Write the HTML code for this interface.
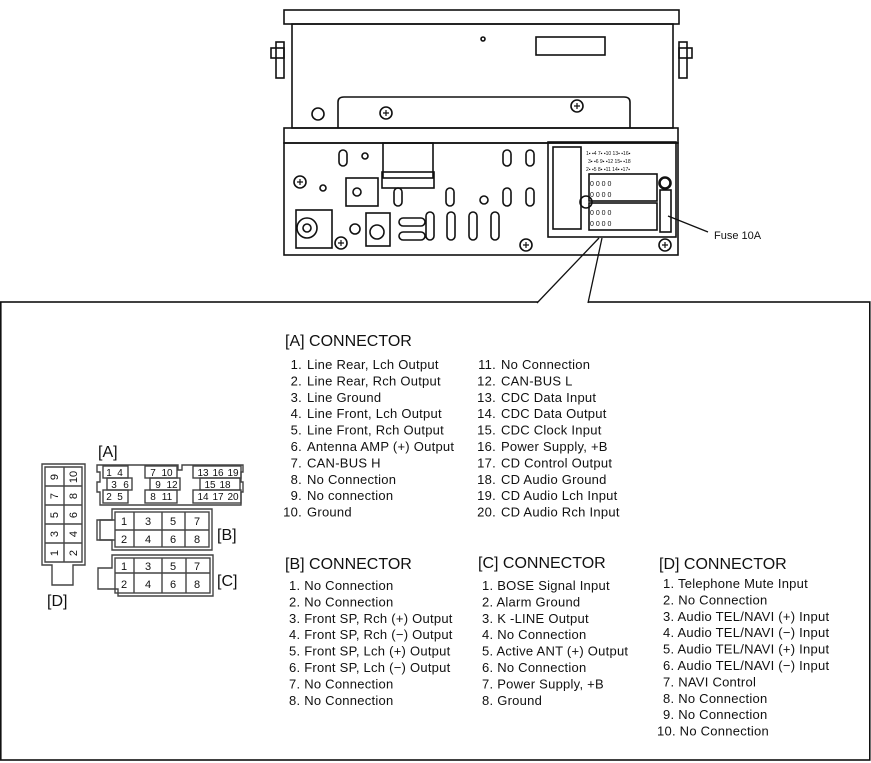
<!DOCTYPE html>
<html><head><meta charset="utf-8"><style>
html,body{margin:0;padding:0;background:#fff}
svg{display:block}
text{font-family:"Liberation Sans",sans-serif;fill:#111}
.it{font-size:13px;letter-spacing:0.25px}
.h{font-size:16px}
.n{font-size:11px}
</style></head><body>
<svg width="871" height="763" viewBox="0 0 871 763" xmlns="http://www.w3.org/2000/svg">
<g fill="none" stroke="#111" stroke-width="1.6">
<rect x="284" y="10" width="395" height="14"/>
<rect x="292" y="24" width="381" height="104"/>
<rect x="271" y="48" width="13" height="10"/><rect x="276" y="42" width="8" height="36"/>
<rect x="679" y="48" width="13" height="10"/><rect x="679" y="42" width="8" height="36"/>
<path d="M338 128 V102 Q338 97 344 97 H624 Q630 97 630 102 V128"/>
<rect x="536" y="37" width="69" height="18"/>
<circle cx="483" cy="39" r="2"/>
<circle cx="318" cy="114" r="6"/><circle cx="386" cy="113" r="6"/><circle cx="577" cy="106" r="6"/>
<path d="M383 113 h6 M386 110 v6 M574 106 h6 M577 103 v6" stroke-width="1.2"/>
<rect x="284" y="128" width="394" height="15"/>
<rect x="284" y="143" width="394" height="112"/>
<rect x="383" y="143" width="50" height="35"/>
<rect x="382" y="172" width="52" height="16"/>
<rect x="346" y="178" width="32" height="28"/>
<circle cx="357" cy="192" r="4"/>
<rect x="296" y="210" width="36" height="38"/><circle cx="307" cy="228" r="10"/><circle cx="307" cy="228" r="4"/>
<rect x="366" y="213" width="24" height="33"/><circle cx="377" cy="232" r="7"/>
<circle cx="300" cy="182" r="6"/><circle cx="341" cy="243" r="6"/><circle cx="355" cy="229" r="5"/><circle cx="526" cy="245" r="6"/><circle cx="665" cy="183" r="6"/><circle cx="665" cy="245" r="6"/>
<path d="M297 182 h6 M300 179 v6 M338 243 h6 M341 240 v6 M523 245 h6 M526 242 v6 M662 245 h6 M665 242 v6" stroke-width="1.2"/>
<rect x="399" y="218" width="26" height="8" rx="4"/><rect x="399" y="232" width="26" height="8" rx="4"/>
<rect x="339" y="150" width="8" height="16" rx="4"/><rect x="503" y="150" width="8" height="16" rx="4"/><rect x="526" y="150" width="8" height="16" rx="4"/>
<rect x="394" y="188" width="8" height="18" rx="4"/><rect x="446" y="188" width="8" height="18" rx="4"/><rect x="503" y="188" width="8" height="18" rx="4"/><rect x="526" y="188" width="8" height="18" rx="4"/>
<rect x="426" y="212" width="8" height="28" rx="4"/><rect x="447" y="212" width="8" height="28" rx="4"/><rect x="469" y="212" width="8" height="28" rx="4"/><rect x="491" y="212" width="8" height="28" rx="4"/>
<circle cx="484" cy="200" r="4"/><circle cx="365" cy="156" r="3"/><circle cx="323" cy="188" r="3"/>
<rect x="548" y="142" width="128" height="95"/>
<rect x="553" y="147" width="28" height="82"/>
<rect x="589" y="174" width="68" height="27"/><rect x="589" y="203" width="68" height="27"/>
<rect x="660" y="190" width="11" height="42"/>
<circle cx="586" cy="202" r="6"/><circle cx="665" cy="183" r="5"/>
<rect x="0.8" y="302" width="869" height="458"/>
</g>
<g fill="#fff" stroke="none"><rect x="538" y="300" width="50" height="4"/></g>
<g fill="none" stroke="#111" stroke-width="1.3">
<polyline points="537,303 599,238"/><polyline points="588,303 602,238"/>
<polyline points="708,232 668,216"/>
</g>
<g fill="#333">
<text x="590" y="186" style="font-size:7px">0 0 0 0</text><text x="590" y="197" style="font-size:7px">0 0 0 0</text>
<text x="590" y="215" style="font-size:7px">0 0 0 0</text><text x="590" y="226" style="font-size:7px">0 0 0 0</text>
<text x="586" y="155" style="font-size:5px">1▪ ▪4 7▪ ▪10 13▪ ▪16▪</text>
<text x="588" y="163" style="font-size:5px">3▪ ▪6 9▪ ▪12 15▪ ▪18</text>
<text x="586" y="171" style="font-size:5px">2▪ ▪5 8▪ ▪11 14▪ ▪17▪</text>
</g>
<text x="714" y="239" style="font-size:11px">Fuse 10A</text>

<g fill="none" stroke="#444" stroke-width="1.4">
<path d="M42 464 H85 V565 H73 V585 H52 V565 H42 Z"/>
<path d="M45 467 H82 V562 H45 Z"/>
<line x1="64" y1="467" x2="64" y2="562"/>
<line x1="45" y1="486" x2="82" y2="486"/><line x1="45" y1="505" x2="82" y2="505"/><line x1="45" y1="524" x2="82" y2="524"/><line x1="45" y1="543" x2="82" y2="543"/>
<path d="M97 465 H178 V470 H182 V465 H243 V472 H241 V482 H243 V492 H241 V505 H100 V492 H97 V482 H100 V472 H97 Z"/>
<rect x="103" y="466" width="25" height="12"/><rect x="107" y="478" width="25" height="12"/><rect x="103" y="490" width="25" height="13"/>
<rect x="145" y="466" width="32" height="12"/><rect x="150" y="478" width="30" height="12"/><rect x="145" y="490" width="32" height="13"/>
<rect x="193" y="466" width="48" height="12"/><rect x="200" y="478" width="40" height="12"/><rect x="193" y="490" width="48" height="13"/>
<path d="M112 509 H212 V550 H112 V540 H97 V520 H112 Z"/>
<rect x="115" y="512" width="94" height="35"/>
<line x1="134" y1="512" x2="134" y2="547"/><line x1="162" y1="512" x2="162" y2="547"/><line x1="185" y1="512" x2="185" y2="547"/>
<line x1="115" y1="530" x2="209" y2="530"/>
<path d="M115 520 H100 V540 H115"/>
<path d="M112 555 H213 V596 H118 V589 H98 V568 H112 Z"/>
<rect x="115" y="558" width="95" height="35"/>
<line x1="134" y1="558" x2="134" y2="593"/><line x1="162" y1="558" x2="162" y2="593"/><line x1="186" y1="558" x2="186" y2="593"/>
<line x1="115" y1="573" x2="210" y2="573"/>
</g>
<g text-anchor="middle" style="font-size:11px">
<g transform="translate(54,477) rotate(-90)"><text y="4">9</text></g>
<g transform="translate(54,496) rotate(-90)"><text y="4">7</text></g>
<g transform="translate(54,515) rotate(-90)"><text y="4">5</text></g>
<g transform="translate(54,534) rotate(-90)"><text y="4">3</text></g>
<g transform="translate(54,553) rotate(-90)"><text y="4">1</text></g>
<g transform="translate(73,477) rotate(-90)"><text y="4">10</text></g>
<g transform="translate(73,496) rotate(-90)"><text y="4">8</text></g>
<g transform="translate(73,515) rotate(-90)"><text y="4">6</text></g>
<g transform="translate(73,534) rotate(-90)"><text y="4">4</text></g>
<g transform="translate(73,553) rotate(-90)"><text y="4">2</text></g>
<text x="124" y="525">1</text><text x="148" y="525">3</text><text x="173" y="525">5</text><text x="197" y="525">7</text>
<text x="124" y="543">2</text><text x="148" y="543">4</text><text x="173" y="543">6</text><text x="197" y="543">8</text>
<text x="124" y="570">1</text><text x="148" y="570">3</text><text x="173" y="570">5</text><text x="197" y="570">7</text>
<text x="124" y="588">2</text><text x="148" y="588">4</text><text x="173" y="588">6</text><text x="197" y="588">8</text>
</g>
<g style="font-size:10px" text-anchor="middle">
<text x="109" y="476">1</text><text x="120" y="476">4</text><text x="153" y="476">7</text><text x="167" y="476">10</text>
<text x="114" y="488">3</text><text x="126" y="488">6</text><text x="158" y="488">9</text><text x="172" y="488">12</text>
<text x="109" y="500">2</text><text x="120" y="500">5</text><text x="153" y="500">8</text><text x="167" y="500">11</text>
<text x="203" y="476">13</text><text x="218" y="476">16</text><text x="233" y="476">19</text>
<text x="210" y="488">15</text><text x="225" y="488">18</text>
<text x="203" y="500">14</text><text x="218" y="500">17</text><text x="233" y="500">20</text>
</g>
<text x="98" y="457" class="h">[A]</text>
<text x="217" y="540" class="h">[B]</text>
<text x="217" y="586" class="h">[C]</text>
<text x="47" y="606" class="h">[D]</text>

<text x="285" y="346" class="h">[A] CONNECTOR</text>
<g class="it">
<g text-anchor="end">
<text x="302" y="369">1.</text><text x="302" y="385.4">2.</text><text x="302" y="401.8">3.</text><text x="302" y="418.2">4.</text><text x="302" y="434.6">5.</text><text x="302" y="451">6.</text><text x="302" y="467.4">7.</text><text x="302" y="483.8">8.</text><text x="302" y="500.2">9.</text><text x="302" y="516.6">10.</text>
<text x="496" y="369">11.</text><text x="496" y="385.4">12.</text><text x="496" y="401.8">13.</text><text x="496" y="418.2">14.</text><text x="496" y="434.6">15.</text><text x="496" y="451">16.</text><text x="496" y="467.4">17.</text><text x="496" y="483.8">18.</text><text x="496" y="500.2">19.</text><text x="496" y="516.6">20.</text>
</g>
<text x="307" y="369">Line Rear, Lch Output</text><text x="307" y="385.4">Line Rear, Rch Output</text><text x="307" y="401.8">Line Ground</text><text x="307" y="418.2">Line Front, Lch Output</text><text x="307" y="434.6">Line Front, Rch Output</text><text x="307" y="451">Antenna AMP (+) Output</text><text x="307" y="467.4">CAN-BUS H</text><text x="307" y="483.8">No Connection</text><text x="307" y="500.2">No connection</text><text x="307" y="516.6">Ground</text>
<text x="501" y="369">No Connection</text><text x="501" y="385.4">CAN-BUS L</text><text x="501" y="401.8">CDC Data Input</text><text x="501" y="418.2">CDC Data Output</text><text x="501" y="434.6">CDC Clock Input</text><text x="501" y="451">Power Supply, +B</text><text x="501" y="467.4">CD Control Output</text><text x="501" y="483.8">CD Audio Ground</text><text x="501" y="500.2">CD Audio Lch Input</text><text x="501" y="516.6">CD Audio Rch Input</text>
</g>

<text x="285" y="569" class="h">[B] CONNECTOR</text>
<g class="it">
<text x="289" y="590">1.  No Connection</text><text x="289" y="606.4">2.  No Connection</text><text x="289" y="622.8">3.  Front SP, Rch (+) Output</text><text x="289" y="639.2">4.  Front SP, Rch (−) Output</text><text x="289" y="655.6">5.  Front SP, Lch (+) Output</text><text x="289" y="672">6.  Front SP, Lch (−) Output</text><text x="289" y="688.4">7.  No Connection</text><text x="289" y="704.8">8.  No Connection</text>
</g>
<text x="478" y="568" class="h">[C] CONNECTOR</text>
<g class="it">
<text x="482" y="590">1.  BOSE Signal Input</text><text x="482" y="606.4">2.  Alarm Ground</text><text x="482" y="622.8">3.  K -LINE Output</text><text x="482" y="639.2">4.  No Connection</text><text x="482" y="655.6">5.  Active ANT (+) Output</text><text x="482" y="672">6.  No Connection</text><text x="482" y="688.4">7.  Power Supply, +B</text><text x="482" y="704.8">8.  Ground</text>
</g>
<text x="659" y="569" class="h">[D] CONNECTOR</text>
<g class="it">
<text x="663" y="588">1. Telephone Mute Input</text><text x="663" y="604.4">2. No Connection</text><text x="663" y="620.8">3. Audio TEL/NAVI (+) Input</text><text x="663" y="637.2">4. Audio TEL/NAVI (−) Input</text><text x="663" y="653.6">5. Audio TEL/NAVI (+) Input</text><text x="663" y="670">6. Audio TEL/NAVI (−) Input</text><text x="663" y="686.4">7. NAVI Control</text><text x="663" y="702.8">8. No Connection</text><text x="663" y="719.2">9. No Connection</text><text x="657" y="735.6">10. No Connection</text>
</g>
</svg>
</body></html>
